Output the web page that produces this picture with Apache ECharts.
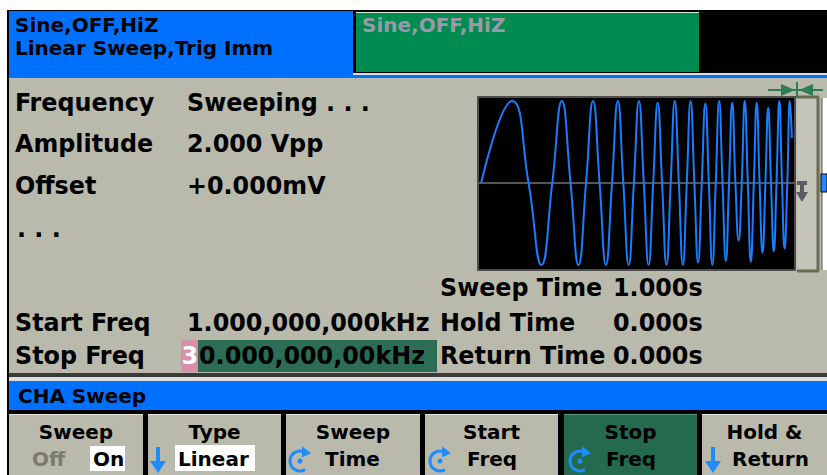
<!DOCTYPE html>
<html>
<head>
<meta charset="utf-8">
<script src="https://cdn.jsdelivr.net/npm/echarts@6/dist/echarts.min.js"></script>
<style>html,body{margin:0;padding:0;background:#fff;}#c{width:827px;height:475px;}</style>
</head>
<body>
<div id="c"></div>
<script>
// ---- data ----
const headerLines = ['Sine,OFF,HiZ', 'Linear Sweep,Trig Imm'];
const chbLabel = 'Sine,OFF,HiZ';
const paramLabels = ['Frequency', 'Amplitude', 'Offset', '. . .'];
const paramValues = ['Sweeping . . .', '2.000 Vpp', '+0.000mV'];
const freqLabels = ['Start Freq', 'Stop Freq'];
const freqValues = ['1.000,000,000kHz', '30.000,000,00kHz'];
const timeLabels = ['Sweep Time', 'Hold Time', 'Return Time'];
const timeValues = ['1.000s', '0.000s', '0.000s'];
const menuTitle = 'CHA Sweep';
const softTop = ['Sweep', 'Type', 'Sweep', 'Start', 'Stop', 'Hold &'];
const softBottom = ['On', 'Linear', 'Time', 'Freq', 'Freq', 'Return'];
// waveform: time (ms of the 1 s sweep) and normalised level (peaks, troughs, crossings)
const waveT = [0, 99.7, 152.7, 194.2, 228.9, 259.8, 287.8, 313.5, 337.6, 360.1, 381.3, 401.6, 421.2, 439.9, 457.6, 474.9,
  491.6, 507.7, 523.5, 538.9, 553.7, 568.2, 582.3, 596.5, 610.0, 623.1, 636.3, 649.2, 661.7, 674.0, 686.2, 698.1,
  710.0, 721.5, 732.8, 744.0, 755.0, 765.9, 776.8, 787.5, 797.7, 808.0, 818.3, 828.6, 838.6, 848.2, 858.2, 867.8,
  877.5, 886.8, 896.1, 905.5, 914.8, 923.8, 932.8, 941.8, 950.5, 959.5, 968.2, 976.5, 985.2, 993.6, 1000];
const waveV = [0, 1, 0, -1, 0, 1, 0, -1, 0, 1, 0, -1, 0, 1, 0, -1,
  0, 1, 0, -1, 0, 0.98, 0, -1, 0, 1, 0, -1, 0, 1, 0, -0.97,
  0, 0.97, 0, -1, 0, 1, 0, -0.95, 0, 0.98, 0, -0.7, 0, 1, 0, -0.96,
  0, 0.98, 0, -0.85, 0, 0.92, 0, -0.83, 0, 1, 0, -0.8, 0, 1, 0.55];

// ---- styles ----
const GRAY = '#B9B9AC', BLUE = '#0070FF', ICON = '#1E8CFF';
const FF = '"DejaVu Sans", sans-serif';
const FC = '"DejaVu Sans Condensed", "DejaVu Sans", sans-serif';
const els = [];
function rect(x, y, w, h, fill, extra) {
  els.push(Object.assign({type: 'rect', shape: {x: x, y: y, width: w, height: h}, style: {fill: fill}, silent: true}, extra || {}));
}
function txt(x, y, s, font, fill, align, sx) {
  els.push({type: 'text', x: x, y: y, scaleX: sx || 1, silent: true,
    style: {text: s, font: font, fill: fill || '#000', textAlign: align || 'left', textVerticalAlign: 'middle',
      align: align || 'left', verticalAlign: 'middle'}});
}
function poly(pts, fill) { els.push({type: 'polygon', shape: {points: pts}, style: {fill: fill}, silent: true}); }
function line(x1, y1, x2, y2, color, w) {
  els.push({type: 'line', shape: {x1: x1, y1: y1, x2: x2, y2: y2}, style: {stroke: color, lineWidth: w}, silent: true});
}
function downArrow(cx) {
  rect(cx - 2, 447, 4, 17, ICON);
  poly([[cx - 8, 461], [cx + 8, 461], [cx, 473]], ICON);
}
function knob(cx) {
  const cy = 461, r = 10;
  els.push({type: 'arc', shape: {cx: cx, cy: cy, r: r, startAngle: Math.PI / 3, endAngle: Math.PI * 5 / 3, clockwise: true},
    style: {stroke: ICON, lineWidth: 3, fill: null}, silent: true});
  const ex = cx + r * Math.cos(Math.PI * 5 / 3), ey = cy + r * Math.sin(Math.PI * 5 / 3);
  poly([[ex - 3, ey - 6], [ex + 6, ey + 1], [ex - 3, ey + 5]], ICON);
  els.push({type: 'circle', shape: {cx: cx, cy: cy, r: 2.5}, style: {fill: ICON}, silent: true});
}

// frame
rect(0, 0, 827, 10, '#fff');
rect(0, 0, 7, 475, '#fff');
rect(7, 10, 820, 1, '#000');
rect(7, 10, 2, 465, '#000');
// header
rect(9, 11, 344, 67, BLUE);
rect(353, 11, 474, 62, '#000');
rect(356, 12, 343, 60, '#008C50');
rect(356, 12, 343, 1, '#cfe8da');
rect(353, 73, 474, 2, '#dcdcdc');
rect(9, 75, 818, 3, BLUE);
txt(15, 25, headerLines[0], 'bold 20px ' + FF, '#000');
txt(15, 48, headerLines[1], 'bold 20px ' + FF, '#000');
txt(362, 25, chbLabel, 'bold 20px ' + FF, '#9a98aa');

// parameter text
const MF = 'bold 25px ' + FC;
const SX = 1.06;
const rowY = [102, 143, 185, 228];
paramLabels.forEach((s, i) => txt(i === 3 ? 17 : 15, rowY[i], s, MF, '#000', 'left', SX));
paramValues.forEach((s, i) => txt(187, rowY[i], s, MF, '#000', 'left', SX));
// highlight on stop freq
rect(181, 340, 17, 32, '#D890AA');
rect(198, 340, 239, 32, '#2B6E55');
const fy = [322, 355];
freqLabels.forEach((s, i) => txt(15, fy[i], s, MF, '#000', 'left', SX));
txt(187, fy[0], freqValues[0], MF, '#000', 'left', SX);
txt(181.5, fy[1], freqValues[1].charAt(0), MF, '#fff', 'left', SX);
txt(199, fy[1], freqValues[1].slice(1), MF, '#000', 'left', SX);
const ty = [287, 322, 355];
timeLabels.forEach((s, i) => txt(440, ty[i], s, MF, '#000', 'left', SX));
timeValues.forEach((s, i) => txt(613, ty[i], s, MF, '#000', 'left', SX));

// right side of plot
rect(797, 97, 20, 173, '#C4C4B8');
line(797, 97, 819, 97, '#6b6b55', 3);
line(818, 97, 818, 271, '#6b6b55', 3);
line(797, 271, 819, 271, '#6b6b55', 3);
rect(822, 98, 5, 172, '#fff');
line(822, 98, 822, 270, '#555', 1);
rect(821, 174, 6, 18, ICON, {style: {fill: ICON, stroke: '#000', lineWidth: 1}});
// green markers
line(768, 90, 823, 90, '#2E7D55', 2);
poly([[781, 84], [795, 90], [781, 96]], '#2E7D55');
poly([[813, 84], [799, 90], [813, 96]], '#2E7D55');
line(797, 82, 797, 98, '#2E7D55', 2);
// trigger marker
rect(797, 181, 10, 4, '#5b5b66');
rect(800, 184, 4, 10, '#5b5b66');
poly([[796, 192], [808, 192], [802, 202]], '#5b5b66');

// menu bar
rect(9, 373, 818, 4, '#3a3a3a');
rect(9, 377, 818, 4, '#dedede');
rect(9, 381, 818, 29, BLUE);
rect(9, 410, 818, 65, '#000');
txt(18, 396, menuTitle, 'bold 20px ' + FF, '#000');
const btnX = [[9, 143], [148, 281], [286, 420], [425, 558], [564, 697], [702, 827]];
btnX.forEach((b, i) => {
  rect(b[0], 414, b[1] - b[0], 61, i === 4 ? '#236A4F' : GRAY);
  rect(b[0], 414, b[1] - b[0], 1, i === 4 ? '#5a9a80' : '#e6e6dc');
  txt((b[0] + b[1]) / 2, 432, softTop[i], 'bold 20px ' + FF, '#000', 'center');
});
const BF = 'bold 20px ' + FF;
txt(32, 459, 'Off', BF, '#7c7c6c');
rect(90, 446, 35, 25, '#fff');
txt(93, 459, softBottom[0], BF, '#000');
downArrow(158);
rect(175, 445, 80, 26, '#fff');
txt(178, 459, softBottom[1], BF, '#000');
knob(300);
txt(325, 459, softBottom[2], BF, '#000');
knob(440);
txt(467, 459, softBottom[3], BF, '#000');
knob(580);
txt(606, 459, softBottom[4], BF, '#000');
downArrow(713);
txt(732, 459, softBottom[5], BF, '#000');

const chart = echarts.init(document.getElementById('c'), null, {renderer: 'svg'});
chart.setOption({
  animation: false,
  backgroundColor: GRAY,
  grid: {left: 478, top: 97, width: 317, height: 173, show: true, backgroundColor: '#000', borderColor: '#4d4d4d', borderWidth: 2},
  xAxis: {type: 'value', min: -10, max: 1010, axisLabel: {show: false}, axisTick: {show: false}, splitLine: {show: false},
    axisLine: {show: true, onZero: true, lineStyle: {color: '#555', width: 2}}},
  yAxis: {type: 'value', min: -1.06, max: 1.05, show: false, splitLine: {show: false}},
  series: [{type: 'line', data: waveT.map((t, i) => [t, waveV[i]]), showSymbol: false, smooth: true,
    lineStyle: {color: '#1A7CFF', width: 2}, silent: true}],
  graphic: {elements: els}
});
</script>
</body>
</html>
